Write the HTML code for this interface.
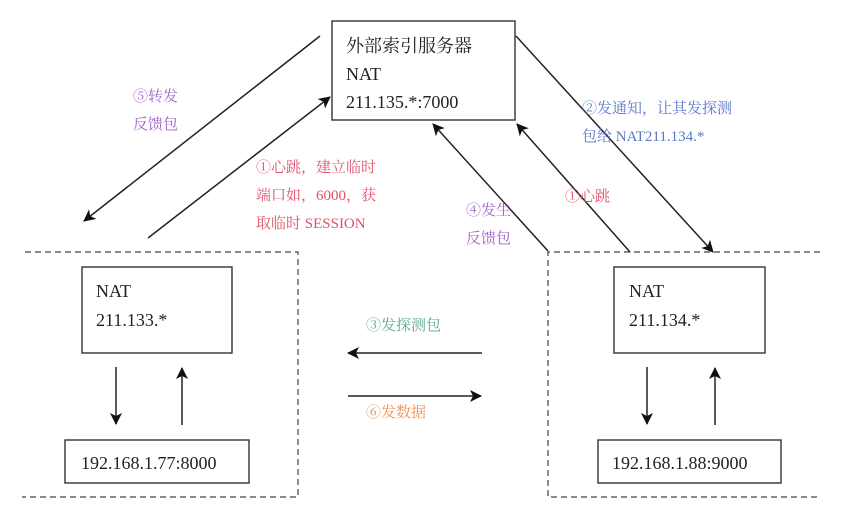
<!DOCTYPE html>
<html><head><meta charset="utf-8"><style>
html,body{margin:0;padding:0;background:#fff;width:856px;height:516px;overflow:hidden}
svg{display:block}
text{font-family:"Liberation Serif","Noto Serif CJK SC",serif}
</style></head><body>
<svg width="856" height="516" viewBox="0 0 856 516" xmlns="http://www.w3.org/2000/svg">
<defs>
<marker id="a" markerWidth="12" markerHeight="12" refX="11" refY="6" orient="auto" markerUnits="userSpaceOnUse">
<path d="M0,0 L12,6 L0,12 L3,6 z" fill="#111"/></marker>
</defs>
<g fill="none" stroke="#333" stroke-width="1.4">
<rect x="332" y="21" width="183" height="99"/>
<rect x="82" y="267" width="150" height="86"/>
<rect x="65" y="440" width="184" height="43"/>
<rect x="614" y="267" width="151" height="86"/>
<rect x="598" y="440" width="183" height="43"/>
</g>
<g fill="none" stroke="#444" stroke-width="1.2" stroke-dasharray="6,4">
<path d="M25,252 H298 V497 H22"/>
<path d="M820,252 H548 V497 H820"/>
</g>
<g stroke="#222" stroke-width="1.5" fill="none">
<line x1="320" y1="36" x2="84" y2="221" marker-end="url(#a)"/>
<line x1="148" y1="238" x2="330" y2="97" marker-end="url(#a)"/>
<line x1="548" y1="251" x2="433" y2="124" marker-end="url(#a)"/>
<line x1="630" y1="252" x2="517" y2="124" marker-end="url(#a)"/>
<line x1="516" y1="36" x2="713" y2="252" marker-end="url(#a)"/>
<line x1="116" y1="367" x2="116" y2="424" marker-end="url(#a)"/>
<line x1="182" y1="425" x2="182" y2="368" marker-end="url(#a)"/>
<line x1="647" y1="367" x2="647" y2="424" marker-end="url(#a)"/>
<line x1="715" y1="425" x2="715" y2="368" marker-end="url(#a)"/>
<line x1="482" y1="353" x2="348" y2="353" marker-end="url(#a)"/>
<line x1="348" y1="396" x2="481" y2="396" marker-end="url(#a)"/>
</g>
<g font-size="18" fill="#222">
<text x="346" y="52">外部索引服务器</text>
<text x="346" y="80">NAT</text>
<text x="346" y="108">211.135.*:7000</text>
<text x="96" y="297">NAT</text>
<text x="96" y="326">211.133.*</text>
<text x="81" y="469">192.168.1.77:8000</text>
<text x="629" y="297">NAT</text>
<text x="629" y="326">211.134.*</text>
<text x="612" y="469">192.168.1.88:9000</text>
</g>
<g font-size="15">
<text x="133" y="101" fill="#a062c4">⑤转发</text>
<text x="133" y="129" fill="#a062c4">反馈包</text>
<text x="256" y="172" fill="#e0506a">①心跳，建立临时</text>
<text x="256" y="200" fill="#e0506a">端口如，6000，获</text>
<text x="256" y="228" fill="#e0506a">取临时 SESSION</text>
<text x="466" y="215" fill="#a062c4">④发生</text>
<text x="466" y="243" fill="#a062c4">反馈包</text>
<text x="565" y="201" fill="#e0506a">①心跳</text>
<text x="582" y="113" fill="#5a78c8">②发通知，让其发探测</text>
<text x="582" y="141" fill="#5a78c8">包给 NAT211.134.*</text>
<text x="366" y="330" fill="#5aaa88">③发探测包</text>
<text x="366" y="417" fill="#f09050">⑥发数据</text>
</g>
</svg>
</body></html>
